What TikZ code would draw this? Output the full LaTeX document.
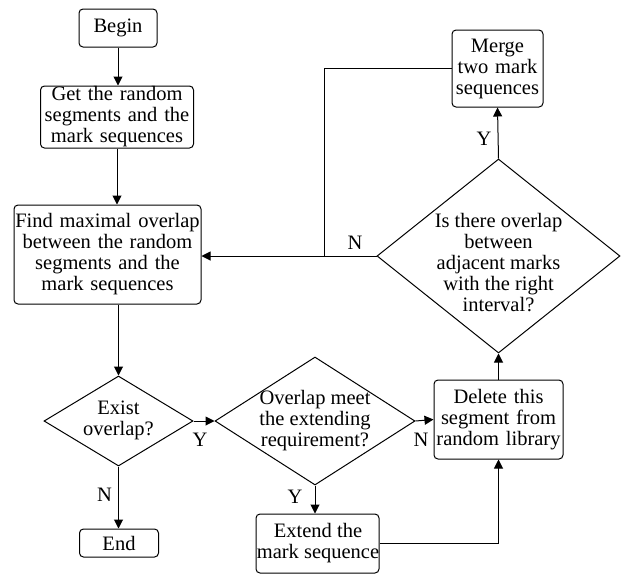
\documentclass[tikz,border=0pt]{standalone}
\usepackage{fontspec}
\setmainfont{Liberation Serif}
\usetikzlibrary{shapes.geometric,arrows.meta}
\begin{document}
\begin{tikzpicture}[x=1pt,y=-1pt,
  every node/.style={font=\fontsize{20.5}{21}\selectfont},
  box/.style={draw, rounded corners=4pt, line width=1pt, inner sep=0pt, align=center},
  dia/.style={draw, diamond, line width=1pt, inner sep=0pt},
  txt/.style={align=center, inner sep=0pt},
  arr/.style={line width=1pt, -{Triangle[length=9pt,width=9pt]}},
  ln/.style={line width=1pt}]
\useasboundingbox (0,0) rectangle (624,574);

% boxes
\node[box, text width=78pt, minimum height=38pt] (begin) at (118,28) {Begin};
\node[box, text width=153pt, minimum height=62pt] (get) at (117,117) {Get the random\\segments and the\\mark sequences};
\node[box, text width=187pt, minimum height=99pt] (find) at (107.5,254.5) {Find maximal overlap\\between the random\\segments and the\\mark sequences};
\node[box, text width=79pt, minimum height=28pt] (end) at (119,543) {End};
\node[box, minimum width=123pt, minimum height=59pt] (extend) at (317.5,543.5) {};
\node[txt] (extendt) at (318,543.5) {Extend the\\mark sequence};
\node[box, text width=129pt, minimum height=79pt] (delete) at (498.5,419.5) {Delete this\\segment from\\random library};
\node[box, text width=91pt, minimum height=77pt] (merge) at (497.5,68.5) {Merge\\two mark\\sequences};

% diamonds
\node[dia, minimum width=149pt, minimum height=90pt] (exist) at (118.5,421) {};
\node[txt] (existt) at (118.5,420) {Exist\\overlap?};
\node[dia, minimum width=200pt, minimum height=128pt] (meet) at (315,421) {};
\node[txt] (meett) at (315,421) {Overlap meet\\the extending\\requirement?};
\node[dia, minimum width=243pt, minimum height=194pt] (adj) at (498.5,256) {};
\node[txt] (adjt) at (498.5,263) {Is there overlap\\between\\adjacent marks\\with the right\\interval?};

% connectors
\draw[arr] (begin.south) -- (begin.south |- get.north);
\draw[arr] (get.south) -- (get.south |- find.north);
\draw[arr] (exist.north |- find.south) -- (exist.north);
\draw[arr] (exist.south) -- node[left, inner sep=6pt, pos=0.45] (ln1) {N} (exist.south |- end.north);
\draw[arr] (exist.east) -- (meet.west);
\node (ly1) at (200,440) {Y};
\draw[arr] (meet.south) -- (meet.south |- extend.north);
\node (ly2) at (295,497) {Y};
\draw[arr] (meet.east) -- (delete.west);
\node (ln2) at (421,440) {N};
\draw[arr] (extend.east) -| (delete.south);
\draw[arr] (delete.north) -- (adj.south);
\draw[arr] (adj.north) -- (merge.south);
\node (ly3) at (484,139) {Y};
\coordinate (jn) at (324,256);
\draw[ln] (merge.west) -| (jn);
\draw[arr] (adj.west) -- (adj.west -| find.east);
\node (ln3) at (355,243) {N};
\end{tikzpicture}
\end{document}
